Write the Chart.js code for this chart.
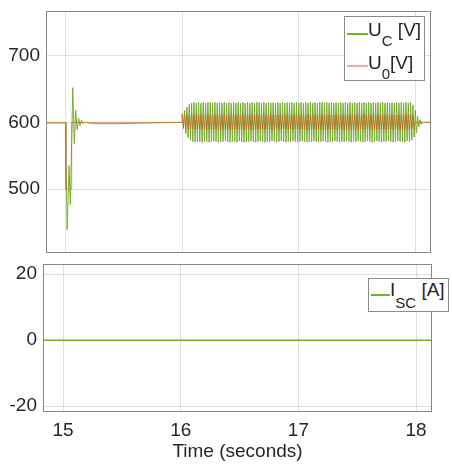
<!DOCTYPE html>
<html>
<head>
<meta charset="utf-8">
<script src="https://cdn.jsdelivr.net/npm/chart.js@4"></script>
<style>
body { margin:0; background:#fff; width:452px; height:468px; overflow:hidden; position:relative; font-family:"Liberation Sans", Arial, sans-serif; color:#262626; }
canvas { position:absolute; left:0; }
.legenda { position:absolute; background:#fff; border:1px solid #8a8a8a; box-sizing:border-box; }
.linha { position:absolute; height:1.5px; }
.texto { position:absolute; font-size:19px; line-height:19px; white-space:nowrap; }
.texto sub { font-size:15px; vertical-align:baseline; position:relative; }
</style>
</head>
<body>
<canvas id="grafUc" width="452" height="260" style="top:0"></canvas>
<canvas id="grafIsc" width="452" height="213" style="top:255px"></canvas>

<div class="legenda" style="left:344px;top:16px;width:81px;height:65px;">
  <span class="linha" style="left:2px;top:16px;width:21px;background:#77AC30"></span>
  <span class="texto" style="left:23px;top:3px">U<sub style="top:10px">C</sub> [V]</span>
  <span class="linha" style="left:2px;top:48px;width:21px;background:#EDAE92"></span>
  <span class="texto" style="left:23px;top:36px">U<sub style="top:10px">0</sub>[V]</span>
</div>
<div class="legenda" style="left:368px;top:278px;width:81px;height:34px;">
  <span class="linha" style="left:2px;top:15px;width:19px;background:#77AC30"></span>
  <span class="texto" style="left:21px;top:1px">I<sub style="top:12px">SC</sub> [A]</span>
</div>

<script>
// eixo do tempo
const xMin = 14.83;
const xMax = 18.135;
const xTicks = [15, 16, 17, 18];
const ucTicks = [500, 600, 700];
const iscTicks = [-20, 0, 20];

// U_C antes da oscilacao (transitorio em 15 s)
const ucPreT = [14.83, 15.000, 15.004, 15.012, 15.028, 15.039, 15.060, 15.073, 15.085, 15.097, 15.110, 15.122, 15.134, 15.146, 15.16, 15.25, 15.45, 15.7, 15.999];
const ucPreV = [599, 599, 520, 439, 535, 477, 652, 568, 618, 589, 606, 595, 603, 598, 600, 598, 598, 599, 600];

// U_C entre 16 e 18 s, uma amostra a cada 0.01 s
const bandaInicio = 16.0;
const bandaPasso = 0.01;
const ucBanda = [
  612,591,618,583,623,577,627,573,629,571,630,570,629,571,630,571,629,570,630,571,
  629,571,630,570,630,571,629,572,630,571,629,570,630,571,629,571,630,572,629,571,
  630,570,629,571,630,571,629,570,630,572,629,571,630,570,629,571,630,571,629,572,
  630,571,629,570,630,571,630,572,629,571,630,570,629,571,630,571,629,572,630,571,
  629,570,630,571,629,572,630,571,629,570,630,571,629,571,630,572,629,571,630,570,
  629,571,630,572,629,571,630,570,629,571,630,571,629,572,630,571,629,570,630,571,
  630,572,629,571,630,570,629,571,630,571,629,572,630,571,629,570,630,571,629,571,
  630,572,629,571,630,570,629,571,630,571,629,572,630,571,629,570,630,571,629,572,
  630,571,629,570,630,571,629,572,630,571,629,570,630,571,629,571,630,572,629,571,
  630,570,629,571,630,572,629,571,630,571,629,570,630,572,629,571,630,573,626,578
];
const ucPosT = [18.00, 18.01, 18.02, 18.03, 18.04, 18.05, 18.06, 18.07, 18.08, 18.14];
const ucPosV = [618, 584, 609, 593, 604, 597, 601, 599, 600, 600];

// U_0 (referencia)
const u0PreT = [14.83, 15.0, 15.001, 15.05, 15.051, 15.999];
const u0PreV = [600, 600, 500, 500, 600, 600];
const u0Banda = [
  613,591,611,589,612,590,611,589,612,590,611,589,612,590,611,590,612,589,611,590,
  612,589,611,590,612,589,611,590,612,590,611,589,612,590,611,589,612,590,611,589,
  612,590,611,589,612,590,611,590,612,589,611,590,612,589,611,590,612,590,611,589,
  612,589,611,590,612,590,611,589,612,590,611,589,612,590,611,590,612,589,611,590,
  612,590,611,589,612,589,611,590,612,590,611,589,612,590,611,589,612,590,611,590,
  612,589,611,590,612,590,611,589,612,589,611,590,612,590,611,589,612,590,611,589,
  612,590,611,589,612,590,611,590,612,589,611,590,612,589,611,590,612,590,611,589,
  612,589,611,590,612,590,611,589,612,590,611,589,612,590,611,590,612,589,611,590,
  612,590,611,589,612,589,611,590,612,590,611,589,612,590,611,589,612,590,611,590,
  612,589,611,590,612,590,611,589,612,589,611,590,612,590,611,589,612,591,609,593
];
const u0PosT = [18.00, 18.14];
const u0PosV = [600, 600];

// corrente do supercapacitor
const iscT = [14.83, 18.14];
const iscV = [0, 0];

const corGrade = 'rgba(38,38,38,0.15)';
const verde = '#77AC30';

function juntar(tempos, valores) {
    return tempos.map((t, i) => ({ x: t, y: valores[i] }));
}
function banda(valores) {
    return valores.map((v, i) => ({ x: bandaInicio + i * bandaPasso, y: v }));
}

// tira o espaco extra que o Chart.js reserva para os rotulos
function semFolga(s) {
    s.paddingTop = 0;
    s.paddingBottom = 0;
    s.paddingLeft = 0;
    s.paddingRight = 0;
}

const moldura = {
    id: 'moldura',
    afterDraw(chart) {
        const a = chart.chartArea;
        const ctx = chart.ctx;
        ctx.save();
        ctx.strokeStyle = '#858585';
        ctx.lineWidth = 1;
        ctx.strokeRect(Math.round(a.left) + 0.5, Math.round(a.top) + 0.5,
            Math.round(a.right - a.left) - 1, Math.round(a.bottom - a.top) - 1);
        ctx.restore();
    }
};

Chart.defaults.font.family = '"Liberation Sans", Arial, sans-serif';
Chart.defaults.font.size = 19;
Chart.defaults.color = '#262626';

const dadosUc = juntar(ucPreT, ucPreV).concat(banda(ucBanda), juntar(ucPosT, ucPosV));
const dadosU0 = juntar(u0PreT, u0PreV).concat(banda(u0Banda), juntar(u0PosT, u0PosV));

new Chart(document.getElementById('grafUc'), {
    type: 'line',
    data: {
        datasets: [{
            label: 'U_C [V]',
            data: dadosUc,
            borderColor: verde,
            borderWidth: 1,
            pointRadius: 0,
            tension: 0,
            order: 2
        }, {
            label: 'U_0[V]',
            data: dadosU0,
            borderColor: 'rgba(217,83,25,0.5)',
            borderWidth: 1,
            pointRadius: 0,
            tension: 0,
            order: 1
        }]
    },
    options: {
        responsive: false,
        animation: false,
        layout: { padding: { top: 11, right: 21, left: 0, bottom: 0 } },
        plugins: { legend: { display: false }, tooltip: { enabled: false } },
        scales: {
            x: {
                type: 'linear', min: xMin, max: xMax,
                afterBuildTicks: s => { s.ticks = xTicks.map(v => ({ value: v })); },
                ticks: { display: false },
                grid: { color: corGrade, drawTicks: false },
                border: { display: false },
                afterFit: s => { s.height = 7; semFolga(s); }
            },
            y: {
                min: 404, max: 767,
                afterBuildTicks: s => { s.ticks = ucTicks.map(v => ({ value: v })); },
                ticks: { padding: 6 },
                grid: { color: corGrade, drawTicks: false },
                border: { display: false },
                afterFit: s => { s.width = 46; semFolga(s); }
            }
        }
    },
    plugins: [moldura]
});

new Chart(document.getElementById('grafIsc'), {
    type: 'line',
    data: {
        datasets: [{
            label: 'I_SC [A]',
            data: juntar(iscT, iscV),
            borderColor: verde,
            borderWidth: 1.5,
            pointRadius: 0,
            tension: 0
        }]
    },
    options: {
        responsive: false,
        animation: false,
        layout: { padding: { top: 9, right: 20, left: 0, bottom: 0 } },
        plugins: { legend: { display: false }, tooltip: { enabled: false } },
        scales: {
            x: {
                type: 'linear', min: xMin, max: xMax,
                afterBuildTicks: s => { s.ticks = xTicks.map(v => ({ value: v })); },
                ticks: { padding: 7 },
                grid: { color: corGrade, drawTicks: false },
                border: { display: false },
                title: { display: true, text: 'Time (seconds)', padding: { top: 0, bottom: 5 } },
                afterFit: s => { s.height = 56; semFolga(s); }
            },
            y: {
                min: -21.8, max: 23.1,
                afterBuildTicks: s => { s.ticks = iscTicks.map(v => ({ value: v })); },
                ticks: { padding: 6 },
                grid: { color: corGrade, drawTicks: false },
                border: { display: false },
                afterFit: s => { s.width = 43; semFolga(s); }
            }
        }
    },
    plugins: [moldura]
});
</script>
</body>
</html>
